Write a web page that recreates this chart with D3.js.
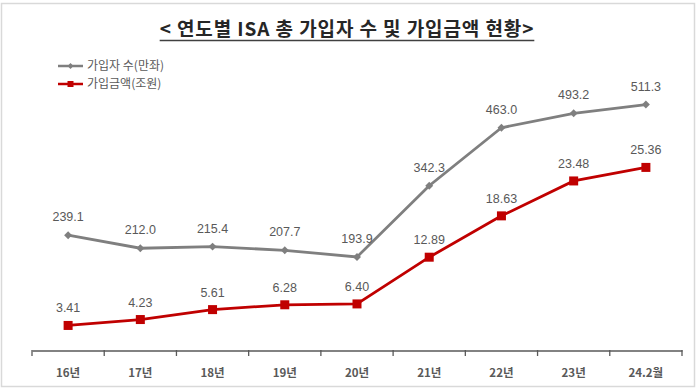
<!DOCTYPE html>
<html><head><meta charset="utf-8">
<script src="https://cdn.jsdelivr.net/npm/d3@7"></script>
<style>body{margin:0;background:#fff}svg{display:block}</style>
</head><body>
<svg id="c" width="700" height="391"></svg>
<script>
const categories = ["16년","17년","18년","19년","20년","21년","22년","23년","24.2월"];
const subscribers = [239.1,212.0,215.4,207.7,193.9,342.3,463.0,493.2,511.3];
const amounts = [3.41,4.23,5.61,6.28,6.40,12.89,18.63,23.48,25.36];
const subLabels = ["239.1","212.0","215.4","207.7","193.9","342.3","463.0","493.2","511.3"];
const amtLabels = ["3.41","4.23","5.61","6.28","6.40","12.89","18.63","23.48","25.36"];
const seriesNames = ["가입자 수(만좌)","가입금액(조원)"];
const title = "< 연도별 ISA 총 가입자 수 및 가입금액 현황>";

const svg = d3.select("#c");
const font = "'Liberation Sans', Arial, 'Noto Sans CJK KR', sans-serif";
const kfont = "'Noto Sans CJK KR', sans-serif";

// border
svg.append("rect").attr("x",1.5).attr("y",3.5).attr("width",693).attr("height",383)
  .attr("fill","none").attr("stroke","#d9d9d9").attr("stroke-width",1.5);

const x = d3.scaleBand().domain(categories).range([32,682]);
const yL = d3.scaleLinear().domain([0,600]).range([350,62]);
const yR = d3.scaleLinear().domain([0,40]).range([350,62]);

// title
const t = svg.append("text").attr("x",347).attr("y",36).attr("text-anchor","middle")
  .attr("font-family",kfont).attr("font-size",19).attr("font-weight",700)
  .attr("letter-spacing","0.9px")
  .attr("fill","#262626").text(title);
const tb = t.node().getBBox();
svg.append("line").attr("x1",tb.x).attr("x2",tb.x+tb.width).attr("y1",40.5).attr("y2",40.5)
  .attr("stroke","#404040").attr("stroke-width",1.5);

// x axis
const ax = svg.append("g").attr("transform","translate(0,350.5)")
  .call(d3.axisBottom(x).tickSizeInner(0).tickSizeOuter(0).tickFormat(""));
ax.select(".domain").attr("stroke","#595959").attr("stroke-width",1.5);
const bounds = categories.map(c=>x(c)).concat([x.range()[1]]);
svg.selectAll(".tk").data(bounds).enter().append("line")
  .attr("x1",d=>d).attr("x2",d=>d).attr("y1",350).attr("y2",356)
  .attr("stroke","#595959").attr("stroke-width",1.3);
svg.selectAll(".xl").data(categories).enter().append("text")
  .attr("x",d=>x(d)+x.bandwidth()/2).attr("y",377).attr("text-anchor","middle")
  .attr("font-family",kfont).attr("font-size",11.5).attr("font-weight",700)
  .attr("fill","#595959").text(d=>d);

const cx = (d,i)=>x(categories[i])+x.bandwidth()/2;

// gray line
const lineL = d3.line().x((d,i)=>cx(d,i)).y(d=>yL(d));
svg.append("path").datum(subscribers).attr("d",lineL).attr("fill","none")
  .attr("stroke","#7f7f7f").attr("stroke-width",2.8);
svg.selectAll(".dm").data(subscribers).enter().append("path")
  .attr("d",d3.symbol(d3.symbolDiamond2,40)())
  .attr("transform",(d,i)=>`translate(${cx(d,i)},${yL(d)})`).attr("fill","#7f7f7f");
svg.selectAll(".sl").data(subscribers).enter().append("text")
  .attr("x",(d,i)=>cx(d,i)).attr("y",d=>yL(d)-14).attr("text-anchor","middle")
  .attr("font-family",font).attr("font-size",12.5).attr("fill","#595959")
  .text((d,i)=>subLabels[i]);

// red line
const lineR = d3.line().x((d,i)=>cx(d,i)).y(d=>yR(d));
svg.append("path").datum(amounts).attr("d",lineR).attr("fill","none")
  .attr("stroke","#c00000").attr("stroke-width",2.8);
svg.selectAll(".sq").data(amounts).enter().append("rect")
  .attr("x",(d,i)=>cx(d,i)-4.5).attr("y",d=>yR(d)-4.5).attr("width",9).attr("height",9)
  .attr("fill","#c00000");
svg.selectAll(".al").data(amounts).enter().append("text")
  .attr("x",(d,i)=>cx(d,i)).attr("y",d=>yR(d)-13).attr("text-anchor","middle")
  .attr("font-family",font).attr("font-size",12.5).attr("fill","#595959")
  .text((d,i)=>amtLabels[i]);

// legend
const lg = [{c:"#7f7f7f",y:66,m:"d"},{c:"#c00000",y:84,m:"s"}];
lg.forEach((l,i)=>{
  svg.append("line").attr("x1",58).attr("x2",83).attr("y1",l.y).attr("y2",l.y)
    .attr("stroke",l.c).attr("stroke-width",2.5);
  if(l.m==="d") svg.append("path").attr("d",d3.symbol(d3.symbolDiamond2,22)())
    .attr("transform",`translate(70.5,${l.y})`).attr("fill",l.c);
  else svg.append("rect").attr("x",67.5).attr("y",l.y-3).attr("width",6).attr("height",6).attr("fill",l.c);
  svg.append("text").attr("x",87).attr("y",l.y+4).attr("font-family",kfont)
    .attr("font-size",12).attr("fill","#595959").text(seriesNames[i]);
});
</script>
</body></html>
